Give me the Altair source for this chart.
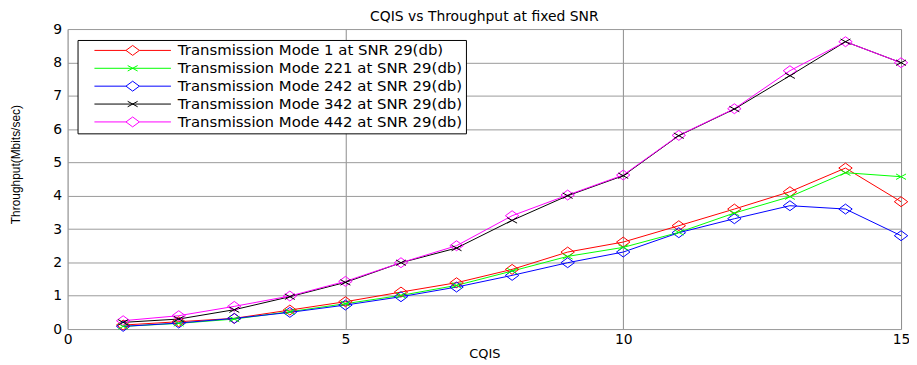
import altair as alt
import pandas as pd

cqis = list(range(1, 16))
series_names = [
    "Transmission Mode 1 at SNR 29(db)",
    "Transmission Mode 221 at SNR 29(db)",
    "Transmission Mode 242 at SNR 29(db)",
    "Transmission Mode 342 at SNR 29(db)",
    "Transmission Mode 442 at SNR 29(db)",
]
mode1 = [0.12, 0.22, 0.32, 0.57, 0.82, 1.11, 1.39, 1.79, 2.31, 2.61, 3.10, 3.60, 4.12, 4.83, 3.82]
mode221 = [0.08, 0.17, 0.30, 0.52, 0.76, 1.01, 1.31, 1.74, 2.18, 2.45, 2.90, 3.48, 3.97, 4.69, 4.57]
mode242 = [0.08, 0.18, 0.32, 0.50, 0.72, 0.97, 1.26, 1.61, 1.99, 2.31, 2.89, 3.31, 3.70, 3.60, 2.80]
mode342 = [0.20, 0.30, 0.58, 0.97, 1.40, 1.99, 2.43, 3.26, 4.00, 4.60, 5.80, 6.60, 7.60, 8.62, 7.99]
mode442 = [0.25, 0.40, 0.68, 0.99, 1.43, 1.99, 2.50, 3.40, 4.02, 4.62, 5.81, 6.61, 7.75, 8.62, 7.99]
colors = ["#ff0000", "#00ff00", "#0000ff", "#000000", "#ff00ff"]
marker_kind = ["diamond", "x", "diamond", "x", "diamond"]
x_ticks = [0, 5, 10, 15]
y_ticks = list(range(0, 10))

all_values = [mode1, mode221, mode242, mode342, mode442]
rows = []
for i, (name, vals) in enumerate(zip(series_names, all_values)):
    for x, v in zip(cqis, vals):
        rows.append({"series": name, "order": i, "kind": marker_kind[i], "cqis": x, "tput": v})
df = pd.DataFrame(rows)

DIAMOND = "M0,-1L1.35,0L0,1L-1.35,0Z"
XMARK = "M-1,-0.55L1,0.55M-1,0.55L1,-0.55"
LEG_DIAMOND = "M-7.7,0L-1.35,0M1.35,0L7.7,0M0,-1L1.35,0L0,1L-1.35,0Z"
LEG_X = "M-7.7,0L7.7,0M-1,-0.55L1,0.55M-1,0.55L1,-0.55"
legend_paths = [LEG_X if k == "x" else LEG_DIAMOND for k in marker_kind]

FONT = "DejaVu Sans"

legend = alt.Legend(
    title=None,
    orient="none",
    legendX=10,
    legendY=11,
    fillColor="white",
    strokeColor="black",
    padding=3,
    symbolSize=100,
    symbolOffset=45,
    symbolStrokeWidth=1,
    symbolFillColor="transparent",
    symbolOpacity=1,
    labelOffset=38,
    labelFont=FONT,
    labelFontSize=15,
    labelColor="black",
    rowPadding=2,
    labelLimit=600,
)

color = alt.Color(
    "series:N",
    scale=alt.Scale(domain=series_names, range=colors),
    sort=series_names,
    legend=legend,
)

x_enc = alt.X(
    "cqis:Q",
    scale=alt.Scale(domain=[0, 15], nice=False),
    axis=alt.Axis(
        values=x_ticks, title="CQIS", ticks=False, labelPadding=4,
        labelFont=FONT, labelFontSize=14, labelColor="black",
        titleFont=FONT, titleFontSize=13, titleFontWeight="normal", titleColor="black",
        titlePadding=1, grid=True, gridColor="#8c8c8c", gridWidth=1, domain=False,
        labelFlush=False,
    ),
)
y_enc = alt.Y(
    "tput:Q",
    scale=alt.Scale(domain=[0, 9], nice=False),
    axis=alt.Axis(
        values=y_ticks, title="Throughput(Mbits/sec)", ticks=False, labelPadding=6,
        labelFont=FONT, labelFontSize=14, labelColor="black",
        titleFont="Liberation Sans Narrow, Liberation Sans", titleFontSize=12,
        titleFontWeight="normal", titleColor="black", titleX=-45, titleY=136,
        grid=True, gridColor="#9a9a9a", gridWidth=1, domain=False,
    ),
)

base = alt.Chart(df)

lines = base.mark_line(strokeWidth=1).encode(
    x=x_enc, y=y_enc, color=color, detail="series:N", order="cqis:Q"
)
diamonds = base.transform_filter(alt.datum.kind == "diamond").mark_point(
    shape=DIAMOND, filled=False, size=100, strokeWidth=1, opacity=1
).encode(x=x_enc, y=y_enc, color=color, order="order:Q")
xmarks = base.transform_filter(alt.datum.kind == "x").mark_point(
    shape=XMARK, filled=False, size=100, strokeWidth=1, opacity=1
).encode(x=x_enc, y=y_enc, color=color, order="order:Q")
legend_layer = base.transform_filter("false").mark_point(
    filled=False, size=100, strokeWidth=1, opacity=1
).encode(
    x=x_enc,
    y=y_enc,
    color=color,
    shape=alt.Shape("series:N", scale=alt.Scale(domain=series_names, range=legend_paths), legend=legend),
)

chart = alt.layer(lines, diamonds, xmarks, legend_layer).properties(
    width=839,
    height=302,
    autosize=alt.AutoSizeParams(type="none"),
    padding={"left": 60, "top": 20, "right": 8, "bottom": 35},
    title=alt.Title(
        "CQIS vs Throughput at fixed SNR", font=FONT, fontSize=14, fontWeight="normal",
        color="black", offset=0, dy=2,
    ),
).configure_view(stroke="black", strokeWidth=1.5).configure(background="white")

chart.save("out.html", embed_options={"renderer": "svg", "actions": False})
